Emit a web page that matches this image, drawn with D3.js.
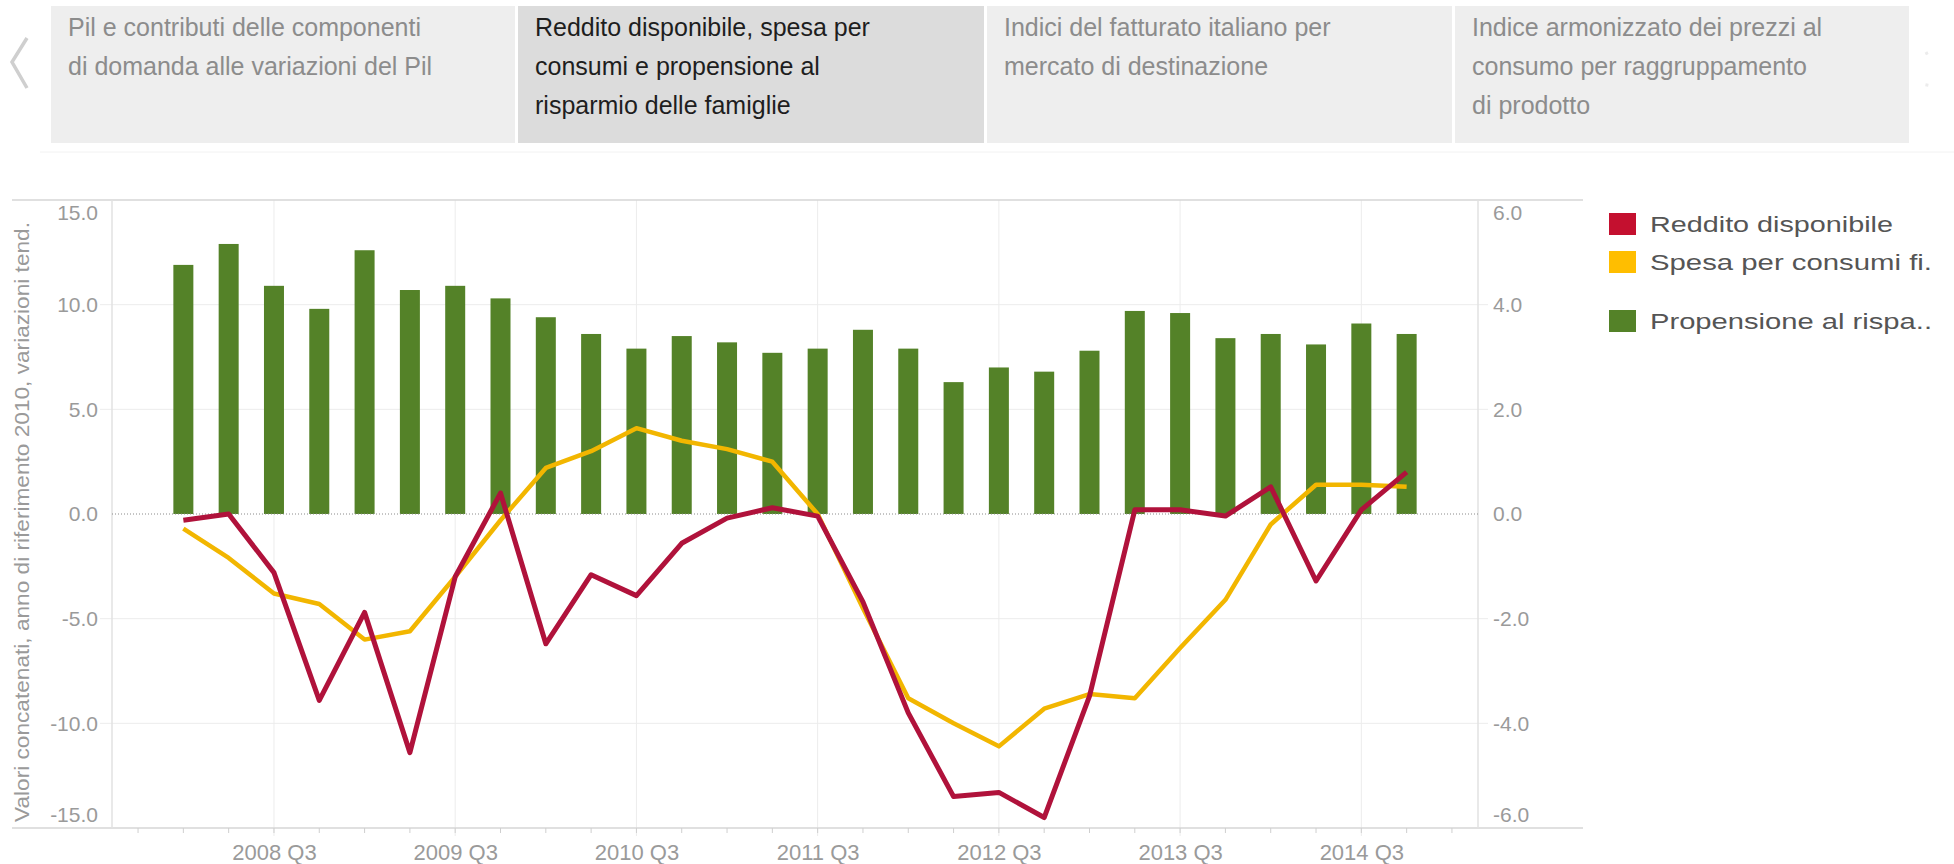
<!DOCTYPE html>
<html>
<head>
<meta charset="utf-8">
<script src="https://cdn.jsdelivr.net/npm/d3@7"></script>
<style>
  body { margin: 0; background: #fff; }
  svg { display: block; font-family: "Liberation Sans", Arial, sans-serif; }
</style>
</head>
<body>
<div id="chart"></div>
<script>
// Data
const quarters = [
  "2008 Q1", "2008 Q2", "2008 Q3", "2008 Q4",
  "2009 Q1", "2009 Q2", "2009 Q3", "2009 Q4",
  "2010 Q1", "2010 Q2", "2010 Q3", "2010 Q4",
  "2011 Q1", "2011 Q2", "2011 Q3", "2011 Q4",
  "2012 Q1", "2012 Q2", "2012 Q3", "2012 Q4",
  "2013 Q1", "2013 Q2", "2013 Q3", "2013 Q4",
  "2014 Q1", "2014 Q2", "2014 Q3", "2014 Q4"
];

// Propensione al risparmio (bars, left axis)
const propensione = [11.9, 12.9, 10.9, 9.8, 12.6, 10.7, 10.9, 10.3, 9.4, 8.6, 7.9, 8.5, 8.2, 7.7,
  7.9, 8.8, 7.9, 6.3, 7.0, 6.8, 7.8, 9.7, 9.6, 8.4, 8.6, 8.1, 9.1, 8.6];

// Reddito disponibile (line, right axis)
const reddito = [-0.12, 0.0, -1.12, -3.56, -1.88, -4.56, -1.2, 0.4, -2.48, -1.16, -1.56, -0.56, -0.08, 0.12,
  -0.04, -1.68, -3.8, -5.4, -5.32, -5.8, -3.48, 0.08, 0.08, -0.04, 0.52, -1.28, 0.08, 0.8];

// Spesa per consumi finali (line, right axis)
const spesa = [-0.28, -0.84, -1.52, -1.72, -2.4, -2.24, -1.2, -0.12, 0.88, 1.2, 1.64, 1.4, 1.24, 1.0,
  0.0, -1.8, -3.52, -4.0, -4.44, -3.72, -3.44, -3.52, -2.56, -1.64, -0.2, 0.56, 0.56, 0.52];

const leftTicks = [-15, -10, -5, 0, 5, 10, 15];
const rightTicks = [-6, -4, -2, 0, 2, 4, 6];
const xLabels = ["2008 Q3", "2009 Q3", "2010 Q3", "2011 Q3", "2012 Q3", "2013 Q3", "2014 Q3"];

const legendItems = ["Reddito disponibile", "Spesa per consumi fi.", "Propensione al rispa.."];
const yAxisTitle = "Valori concatenati, anno di riferimento 2010, variazioni tend.";

const tabs = [
  ["Pil e contributi delle componenti", "di domanda alle variazioni del Pil"],
  ["Reddito disponibile, spesa per", "consumi e propensione al", "risparmio delle famiglie"],
  ["Indici del fatturato italiano per", "mercato di destinazione"],
  ["Indice armonizzato dei prezzi al", "consumo per raggruppamento", "di prodotto"]
];
const activeTab = 1;

// colours
const cRed = "#b0123b", cYellow = "#f2b600", cGreen = "#548228";
const legendColors = ["#c4102f", "#ffbe00", "#548228"];

const W = 1954, H = 864;
const plot = { left: 112, right: 1478, top: 200, bottom: 828 };

const svg = d3.select("#chart").append("svg")
  .attr("width", W)
  .attr("height", H);

// ---- tab strip ----
const tabX = [51, 518, 987, 1455];
const tabW = [464, 466, 465, 454];
const tabG = svg.append("g");
tabs.forEach((lines, i) => {
  tabG.append("rect")
    .attr("x", tabX[i]).attr("y", 6)
    .attr("width", tabW[i]).attr("height", 137)
    .attr("fill", i === activeTab ? "#dcdcdc" : "#eeeeee");
  lines.forEach((t, j) => {
    tabG.append("text")
      .attr("x", tabX[i] + 17)
      .attr("y", 36 + j * 39)
      .attr("font-size", 25)
      .attr("fill", i === activeTab ? "#1e1e1e" : "#8c8c8c")
      .text(t);
  });
});
// scroll chevrons
tabG.append("path")
  .attr("d", "M27,38 L12,62 L27,88")
  .attr("fill", "none").attr("stroke", "#cfcfcf").attr("stroke-width", 3.5);
tabG.append("path")
  .attr("d", "M1926,52 L1931,62 L1926,90")
  .attr("fill", "none").attr("stroke", "#ececec").attr("stroke-width", 3)
  .attr("stroke-dasharray", "3,30");

// faint separator under the tabs
svg.append("line")
  .attr("x1", 40).attr("x2", 1954).attr("y1", 152).attr("y2", 152)
  .attr("stroke", "#f2f2f2");

// ---- scales ----
const x = d3.scalePoint()
  .domain(quarters)
  .range([plot.left, plot.right])
  .padding(1.575);

const yL = d3.scaleLinear().domain([-15, 15]).range([plot.bottom, plot.top]);
const yR = d3.scaleLinear().domain([-6, 6]).range([plot.bottom, plot.top]);

const fmt = d => d.toFixed(1);

// ---- grid ----
const grid = svg.append("g");
grid.selectAll(".hg")
  .data(leftTicks.filter(d => Math.abs(d) !== 15 && d !== 0))
  .join("line")
    .attr("x1", 100).attr("x2", 1488)
    .attr("y1", d => yL(d)).attr("y2", d => yL(d))
    .attr("stroke", "#ececec");

grid.selectAll(".vg")
  .data(xLabels)
  .join("line")
    .attr("x1", d => x(d)).attr("x2", d => x(d))
    .attr("y1", plot.top).attr("y2", plot.bottom + 8)
    .attr("stroke", "#ececec");

// frame
svg.append("line").attr("x1", 12).attr("x2", 1583).attr("y1", plot.top).attr("y2", plot.top)
  .attr("stroke", "#d6d6d6").attr("stroke-width", 1.5);
svg.append("line").attr("x1", 12).attr("x2", 1583).attr("y1", plot.bottom).attr("y2", plot.bottom)
  .attr("stroke", "#d6d6d6").attr("stroke-width", 1.5);
svg.append("line").attr("x1", plot.left).attr("x2", plot.left).attr("y1", plot.top).attr("y2", plot.bottom)
  .attr("stroke", "#e2e2e2").attr("stroke-width", 1.5);
svg.append("line").attr("x1", plot.right).attr("x2", plot.right).attr("y1", plot.top).attr("y2", plot.bottom)
  .attr("stroke", "#e2e2e2").attr("stroke-width", 1.5);

// minor quarter ticks on the bottom axis (one extra each side)
const step = x.step();
const tickXs = [x(quarters[0]) - step, ...quarters.map(q => x(q)), x(quarters[quarters.length - 1]) + step];
svg.append("g").selectAll("line")
  .data(tickXs)
  .join("line")
    .attr("x1", d => d).attr("x2", d => d)
    .attr("y1", plot.bottom).attr("y2", plot.bottom + 5)
    .attr("stroke", "#cfcfcf");

// ---- bars ----
svg.append("g")
  .selectAll("rect")
  .data(propensione)
  .join("rect")
    .attr("x", (d, i) => x(quarters[i]) - 10)
    .attr("width", 20)
    .attr("y", d => yL(d))
    .attr("height", d => yL(0) - yL(d))
    .attr("fill", cGreen);

// zero line
svg.append("line")
  .attr("x1", plot.left).attr("x2", plot.right)
  .attr("y1", yL(0)).attr("y2", yL(0))
  .attr("stroke", "#8a8a8a").attr("stroke-dasharray", "1,2");

// ---- lines ----
const line = d3.line()
  .x((d, i) => x(quarters[i]))
  .y(d => yR(d));

svg.append("path")
  .datum(spesa)
  .attr("fill", "none")
  .attr("stroke", cYellow)
  .attr("stroke-width", 4.5)
  .attr("stroke-linejoin", "round")
  .attr("d", line);

svg.append("path")
  .datum(reddito)
  .attr("fill", "none")
  .attr("stroke", cRed)
  .attr("stroke-width", 5)
  .attr("stroke-linejoin", "round")
  .attr("d", line);

// ---- axes ----
const axisL = svg.append("g")
  .attr("transform", `translate(${plot.left - 14},0)`)
  .call(d3.axisLeft(yL).tickValues(leftTicks).tickFormat(fmt).tickSize(0).tickPadding(0));
const axisR = svg.append("g")
  .attr("transform", `translate(${plot.right + 15},0)`)
  .call(d3.axisRight(yR).tickValues(rightTicks).tickFormat(fmt).tickSize(0).tickPadding(0));

[axisL, axisR].forEach(g => {
  g.select(".domain").remove();
  g.selectAll("text")
    .attr("font-size", 21)
    .attr("font-family", "Liberation Sans, Arial, sans-serif")
    .attr("fill", "#9a9a9a")
    // top and bottom labels sit inside the frame
    .attr("dy", (d, i, n) => i === 0 ? "-0.32em" : i === n.length - 1 ? "0.95em" : "0.32em");
});

const axisB = svg.append("g")
  .attr("transform", `translate(0,${plot.bottom})`)
  .call(d3.axisBottom(x).tickValues(xLabels).tickSize(0).tickPadding(16));
axisB.select(".domain").remove();
axisB.selectAll("text")
  .attr("font-size", 22)
  .attr("font-family", "Liberation Sans, Arial, sans-serif")
  .attr("fill", "#9a9a9a");

// y-axis title
svg.append("text")
  .attr("transform", "translate(29,522) rotate(-90)")
  .attr("text-anchor", "middle")
  .attr("font-size", 20)
  .attr("fill", "#9a9a9a")
  .attr("textLength", 600)
  .attr("lengthAdjust", "spacingAndGlyphs")
  .text(yAxisTitle);

// ---- legend ----
const legY = [224, 262, 321];
const legW = [243, 282, 282];
const leg = svg.append("g");
legendItems.forEach((t, i) => {
  leg.append("rect")
    .attr("x", 1609).attr("y", legY[i] - 11)
    .attr("width", 27).attr("height", 22)
    .attr("fill", legendColors[i]);
  leg.append("text")
    .attr("x", 1650).attr("y", legY[i])
    .attr("dy", "0.35em")
    .attr("font-size", 22)
    .attr("fill", "#555")
    .attr("textLength", legW[i])
    .attr("lengthAdjust", "spacingAndGlyphs")
    .text(t);
});
</script>
</body>
</html>
